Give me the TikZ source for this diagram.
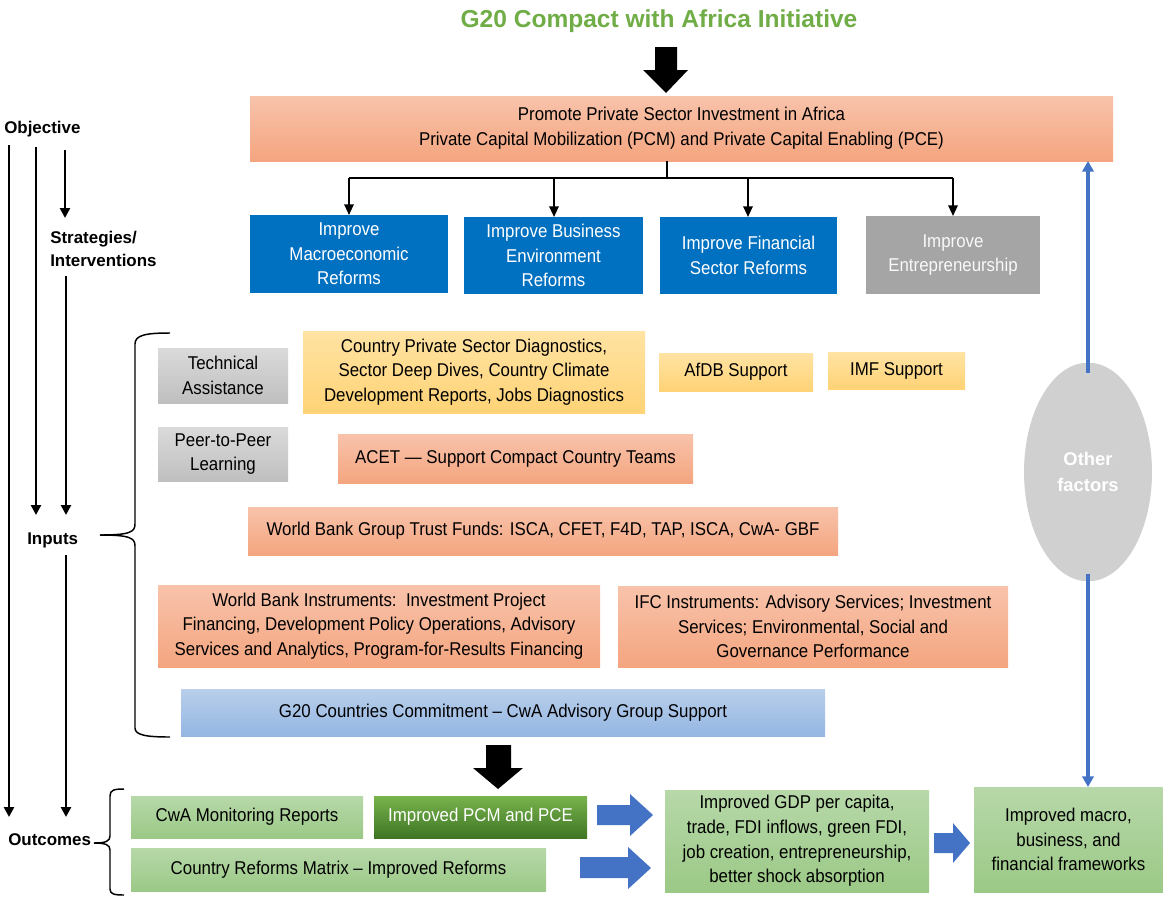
\documentclass[tikz,border=0pt]{standalone}
\usepackage{fontspec}
\setmainfont[FakeStretch=0.91]{Liberation Sans}
\newfontfamily\lbl{Liberation Sans}
\usetikzlibrary{arrows.meta,shapes.geometric}
\definecolor{salm1}{HTML}{F8C3AB}
\definecolor{salm2}{HTML}{F4A57F}
\definecolor{yel1}{HTML}{FFE3A3}
\definecolor{yel2}{HTML}{FFD376}
\definecolor{gry1}{HTML}{DADADA}
\definecolor{gry2}{HTML}{BFBFBF}
\definecolor{blu}{HTML}{0070C0}
\definecolor{entgray}{HTML}{A5A5A5}
\definecolor{lb1}{HTML}{B9CFEB}
\definecolor{lb2}{HTML}{94B6E2}
\definecolor{lg1}{HTML}{B7D8A9}
\definecolor{lg2}{HTML}{9BC986}
\definecolor{dg1}{HTML}{78B34D}
\definecolor{dg2}{HTML}{3E7524}
\definecolor{arrowblue}{HTML}{4472C4}
\definecolor{ellgray}{HTML}{D0D0D0}
\definecolor{titlegreen}{HTML}{70AD47}
\begin{document}
\begin{tikzpicture}[x=0.75pt,y=-0.75pt,
  wh/.style 2 args={minimum width=#1*0.75pt, minimum height=#2*0.75pt},
  box/.style={inner sep=0pt, outer sep=0pt, align=center, font=\fontsize{13.9}{18.5}\selectfont},
  salmon/.style={box, top color=salm1, bottom color=salm2},
  yellow/.style={box, top color=yel1, bottom color=yel2},
  greybox/.style={box, top color=gry1, bottom color=gry2},
  bluebox/.style={box, fill=blu, text=white},
  ent/.style={box, fill=entgray, text=white!95!gray},
  lblue/.style={box, top color=lb1, bottom color=lb2},
  lgreen/.style={box, top color=lg1, bottom color=lg2},
  dgreen/.style={box, top color=dg1, bottom color=dg2, text=white},
  lab/.style={inner sep=0pt, font=\lbl\bfseries\fontsize{12.7}{17.3}\selectfont},
  flow/.style={line width=2.2pt, -{Triangle[width=7.5pt,length=7.5pt]}},
  branch/.style={line width=1.5pt, -{Triangle[width=7pt,length=8pt]}},
  bluearr/.style={draw=arrowblue, line width=2.4pt, -{Triangle[width=8.5pt,length=8pt]}},
  bracestyle/.style={line width=1.1pt},
  blockblack/.style={fill=black},
  blockblue/.style={fill=arrowblue}]
\useasboundingbox (0,0) rectangle (1163,897);

% title
\node[anchor=base, inner sep=0pt, text=titlegreen, font=\lbl\bfseries\fontsize{18.4}{22}\selectfont] (title) at (659,27) {G20 Compact with Africa Initiative};
\fill[blockblack] (655,47) -- (677,47) -- (677,70) -- (688,70) -- (666,93) -- (643,70) -- (655,70) -- cycle;

% objective
\node[salmon, wh={863}{65}] (main) at (681.5,128.5) {Promote Private Sector Investment in Africa\\Private Capital Mobilization (PCM) and Private Capital Enabling (PCE)};

% strategies
\node[bluebox, wh={198}{78}] (macro) at (349,254) {Improve\\Macroeconomic\\Reforms};
\node[bluebox, wh={179}{77}] (busi) at (553.5,255.5) {Improve Business\\Environment\\Reforms};
\node[bluebox, wh={177}{77}] (fin) at (748.5,255.5) {Improve Financial\\Sector Reforms};
\node[ent, wh={174}{78}] (entr) at (953,255) {Improve\\Entrepreneurship};

\coordinate (bus) at (667,178);
\coordinate (b1) at (349,178);
\coordinate (b2) at (554,178);
\coordinate (b3) at (748,178);
\coordinate (b4) at (953,178);
\draw[line width=1.5pt] (bus |- main.south) -- (bus);
\draw[line width=1.5pt] (b1) -- (b4);
\draw[branch] (b1) -- (b1 |- macro.north);
\draw[branch] (b2) -- (b2 |- busi.north);
\draw[branch] (b3) -- (b3 |- fin.north);
\draw[branch] (b4) -- (b4 |- entr.north);

% inputs
\node[greybox, wh={130}{55}] (ta) at (223,375.5) {Technical\\Assistance};
\node[yellow, wh={342}{82}] (diag) at (474,372) {Country Private Sector Diagnostics,\\Sector Deep Dives, Country Climate\\Development Reports, Jobs Diagnostics};
\node[yellow, wh={154}{38}] (afdb) at (736,372) {AfDB Support};
\node[yellow, wh={137}{37}] (imf) at (896.5,370.5) {IMF Support};
\node[greybox, wh={130}{54}] (p2p) at (223,454) {Peer-to-Peer\\Learning};
\node[salmon, wh={355}{49}] (acet) at (515.5,458.5) {ACET — Support Compact Country Teams};
\node[salmon, wh={590}{48}] (tf) at (543,531) {World Bank Group Trust Funds: ISCA, CFET, F4D, TAP, ISCA, CwA- GBF};
\node[salmon, wh={442}{82}] (wbi) at (379,626) {World Bank Instruments:\ \ Investment Project\\Financing, Development Policy Operations, Advisory\\Services and Analytics, Program-for-Results Financing};
\node[salmon, wh={390}{81}] (ifc) at (813,626.5) {IFC Instruments: Advisory Services; Investment\\Services; Environmental, Social and\\Governance Performance};
\node[lblue, wh={644}{47}] (g20) at (503,712.5) {G20 Countries Commitment – CwA Advisory Group Support};

% brace for inputs
\draw[bracestyle] (170,333) .. controls (146,333) and (135,335) .. (135,344) -- (135,524) .. controls (135,532) and (130,535) .. (100,535);
\draw[bracestyle] (100,535) .. controls (130,535) and (135,538) .. (135,546) -- (135,728) .. controls (135,735) and (146,737) .. (170,737);

% outcomes
\fill[blockblack] (486,745) -- (511,745) -- (511,768) -- (523,768) -- (498,789) -- (473,768) -- (486,768) -- cycle;
\node[lgreen, wh={232}{42}] (cwa) at (247,817) {CwA Monitoring Reports};
\node[dgreen, wh={213}{42}] (pcm) at (480.5,817) {Improved PCM and PCE};
\node[lgreen, wh={415}{43}] (crm) at (338.5,869.5) {Country Reforms Matrix – Improved Reforms};
\node[lgreen, wh={264}{102}] (gdp) at (797,841) {Improved GDP per capita,\\trade, FDI inflows, green FDI,\\job creation, entrepreneurship,\\better shock absorption};
\node[lgreen, wh={189}{105}] (fw) at (1068.5,839.5) {Improved macro,\\business, and\\financial frameworks};

\fill[blockblue] (597,805) -- (630,805) -- (630,794) -- (653,815) -- (630,836) -- (630,825) -- (597,825) -- cycle;
\fill[blockblue] (580,857) -- (628,857) -- (628,847) -- (651,868) -- (628,889) -- (628,878) -- (580,878) -- cycle;
\fill[blockblue] (934,833) -- (953,833) -- (953,823) -- (970,843) -- (953,863) -- (953,853) -- (934,853) -- cycle;

% outcomes brace
\draw[bracestyle] (124,789) .. controls (114,789) and (110,790) .. (110,796) -- (110,836) .. controls (110,841) and (106,843) .. (94,843);
\draw[bracestyle] (94,843) .. controls (106,843) and (110,845) .. (110,850) -- (110,889) .. controls (110,894) and (114,895) .. (124,895);

% other factors
\node[ellipse, fill=ellgray, minimum width=96pt, minimum height=164pt, inner sep=0pt, text=white, align=center, font=\lbl\bfseries\fontsize{13.8}{19.5}\selectfont] (oth) at (1088,472) {Other\\factors};
\draw[bluearr] ([yshift=-8pt]oth.north) -- (oth.north |- main.south);
\draw[bluearr] ([yshift=6pt]oth.south) -- (oth.south |- fw.north);

% left labels
\node[lab, anchor=base west] (obj) at (4,133) {Objective};
\node[lab, anchor=north west, align=left] (strat) at (50,231) {Strategies/\\Interventions};
\node[lab, anchor=base west] (inp) at (27,544) {Inputs};
\node[lab, anchor=base west] (outc) at (8,845) {Outcomes};

% left arrows
\coordinate (l1a) at (9,145);
\coordinate (l1b) at (9,817);
\coordinate (l2a) at (36,147);
\coordinate (l2b) at (36,515);
\coordinate (l3a) at (65,150);
\coordinate (l3b) at (65,218);
\coordinate (l4a) at (66,276);
\coordinate (l4b) at (66,515);
\coordinate (l5a) at (66,555);
\coordinate (l5b) at (66,817);
\draw[flow] (l1a) -- (l1b);
\draw[flow] (l2a) -- (l2b);
\draw[flow] (l3a) -- (l3b);
\draw[flow] (l4a) -- (l4b);
\draw[flow] (l5a) -- (l5b);
\end{tikzpicture}
\end{document}
